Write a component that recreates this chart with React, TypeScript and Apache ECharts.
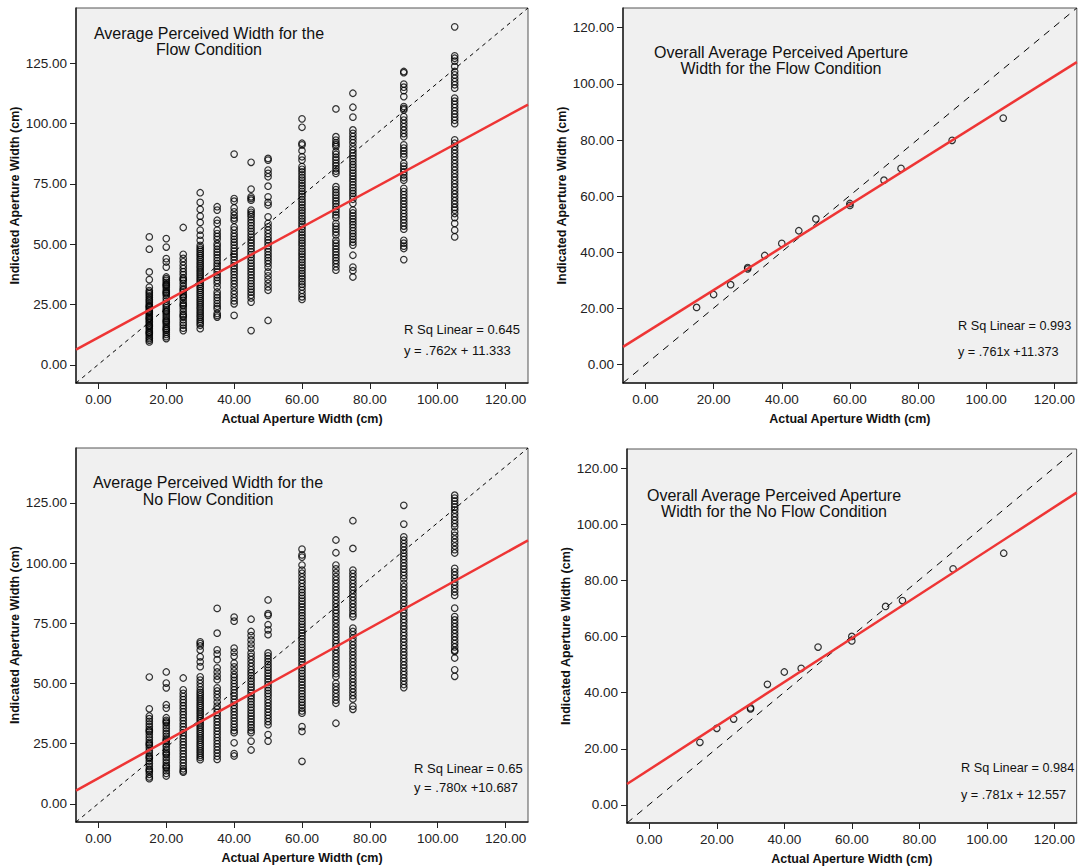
import React, { useEffect, useRef } from "react";
import * as echarts from "echarts";

// ---------- data ----------
const CONDITIONS = [15, 20, 25, 30, 35, 40, 45, 50, 60, 70, 75, 90, 105];
const X_TICKS = [0, 20, 40, 60, 80, 100, 120];
const Y_TICKS_RAW = [0, 25, 50, 75, 100, 125];
const Y_TICKS_AVG = [0, 20, 40, 60, 80, 100, 120];

// Flow condition, raw responses per actual width
const flow15 = [53.0, 47.9, 38.5, 35.3, 32.2, 30.8, 30.1, 29.4, 28.6, 27.9, 27.1, 26.5, 25.7, 25.0, 24.4, 23.6, 22.9, 22.3, 21.5, 20.8, 20.1, 19.5, 18.7, 18.0, 17.4, 16.6, 15.9, 15.2, 14.5, 13.7, 13.0, 12.4, 11.6, 10.9, 10.2, 9.5, 24.1, 21.9, 19.2, 16.2, 13.4];
const flow20 = [52.3, 48.8, 44.0, 42.6, 40.5, 36.4, 35.7, 35.0, 34.2, 33.5, 32.7, 31.9, 31.0, 30.3, 29.5, 28.7, 27.6, 26.4, 25.2, 24.5, 23.6, 22.8, 21.9, 21.1, 20.2, 19.4, 18.6, 17.7, 16.9, 16.0, 15.2, 14.3, 13.5, 12.6, 11.7, 10.9, 33.1, 29.9, 22.2, 18.1, 14.8];
const flow25 = [56.9, 45.8, 44.1, 42.7, 41.2, 39.9, 38.6, 37.4, 36.1, 34.9, 33.8, 32.6, 31.5, 30.2, 29.1, 27.9, 26.8, 25.6, 24.4, 23.3, 22.1, 21.0, 19.8, 18.7, 17.5, 16.4, 15.2, 14.2, 35.5, 31.0, 28.4, 24.9, 20.4];
const flow30 = [71.3, 67.3, 64.4, 61.6, 59.0, 55.8, 53.7, 51.6, 49.5, 48.6, 47.8, 47.0, 46.1, 45.3, 44.4, 43.6, 42.7, 41.9, 41.0, 40.2, 39.3, 38.5, 37.6, 36.8, 35.9, 35.1, 34.2, 33.4, 32.5, 31.7, 30.8, 30.0, 29.1, 28.3, 27.4, 26.6, 25.7, 24.9, 24.0, 23.2, 22.3, 21.5, 20.6, 19.8, 18.9, 18.1, 17.2, 16.4, 15.0];
const flow35 = [65.5, 64.1, 59.9, 58.6, 55.8, 54.4, 53.2, 52.0, 50.2, 49.1, 47.9, 46.7, 45.6, 44.4, 43.2, 42.0, 40.9, 39.7, 38.5, 37.3, 36.2, 35.0, 33.8, 32.2, 30.2, 29.0, 27.9, 26.7, 25.4, 24.3, 23.3, 21.3, 20.5, 19.8];
const flow40 = [87.3, 68.9, 67.8, 65.0, 63.4, 62.0, 60.8, 59.9, 57.1, 55.9, 54.4, 53.2, 52.0, 50.8, 49.6, 48.3, 47.1, 45.9, 44.7, 43.5, 42.2, 41.0, 39.8, 38.6, 37.4, 36.1, 34.9, 33.6, 32.2, 30.6, 29.3, 27.8, 26.5, 25.3, 20.5];
const flow45 = [83.9, 72.8, 69.6, 68.9, 68.2, 64.1, 63.2, 62.3, 61.3, 60.1, 58.9, 57.7, 56.5, 55.3, 54.1, 52.9, 51.7, 50.5, 49.3, 48.1, 46.9, 45.7, 44.5, 43.3, 42.1, 40.9, 39.7, 38.5, 37.3, 36.1, 34.9, 33.7, 32.5, 31.3, 30.1, 28.9, 27.7, 26.0, 14.2];
const flow50 = [85.5, 84.8, 80.7, 79.3, 77.9, 74.0, 69.6, 67.3, 66.2, 61.3, 58.6, 57.2, 55.8, 54.4, 53.0, 51.8, 50.6, 49.3, 48.1, 46.9, 45.6, 44.4, 43.2, 42.0, 40.5, 38.5, 36.9, 35.4, 33.8, 32.3, 30.9, 18.4];
const flow60 = [101.9, 98.4, 91.8, 91.1, 88.7, 86.2, 84.8, 82.1, 81.0, 79.9, 78.7, 77.6, 76.5, 75.3, 74.2, 73.1, 71.9, 70.8, 69.7, 68.5, 67.4, 66.3, 65.1, 64.0, 62.9, 61.7, 60.6, 59.5, 58.3, 57.2, 56.1, 54.9, 53.8, 52.7, 51.5, 50.4, 49.3, 48.1, 47.0, 45.9, 44.7, 43.6, 42.5, 41.3, 40.2, 39.1, 37.9, 36.8, 35.7, 34.5, 33.4, 32.3, 30.9, 29.5, 28.2, 27.1];
const flow70 = [106.0, 94.5, 93.1, 92.0, 91.2, 90.4, 88.3, 87.2, 86.0, 84.9, 83.6, 82.5, 81.3, 80.2, 79.3, 73.8, 72.6, 71.4, 70.3, 69.1, 67.9, 66.8, 65.6, 64.4, 63.3, 62.1, 61.0, 58.6, 57.4, 56.2, 55.0, 53.8, 51.6, 50.4, 49.2, 48.0, 46.8, 45.6, 44.4, 43.2, 42.0, 40.6, 39.2];
const flow75 = [112.5, 106.7, 102.6, 97.3, 95.9, 94.6, 93.3, 92.0, 90.4, 89.0, 87.8, 86.6, 85.4, 84.2, 83.0, 81.8, 80.6, 79.4, 78.2, 77.0, 75.8, 74.6, 73.4, 72.2, 71.0, 69.8, 68.6, 66.9, 64.1, 62.9, 61.7, 60.5, 59.3, 58.1, 56.9, 55.6, 54.4, 53.2, 52.0, 50.8, 49.6, 45.4, 40.5, 39.0, 36.4];
const flow90 = [121.5, 121.0, 116.3, 115.0, 113.6, 111.1, 107.0, 106.2, 105.6, 102.8, 101.4, 100.0, 98.6, 97.2, 95.8, 94.5, 91.1, 89.8, 88.6, 87.4, 86.2, 83.5, 82.3, 81.1, 79.9, 78.7, 77.5, 76.5, 73.1, 71.8, 70.5, 69.2, 67.9, 66.6, 65.3, 64.0, 62.7, 61.4, 60.1, 58.8, 57.5, 56.2, 51.6, 50.4, 49.2, 48.2, 43.6];
const flow105 = [140.0, 128.0, 127.0, 125.8, 123.6, 121.5, 120.1, 118.7, 117.3, 116.0, 114.6, 110.5, 109.2, 107.9, 106.6, 105.2, 103.9, 102.6, 101.3, 99.9, 93.2, 91.8, 90.4, 89.0, 87.6, 86.2, 84.8, 83.4, 82.0, 80.6, 79.2, 77.8, 76.4, 75.0, 73.6, 72.2, 70.8, 69.4, 68.0, 66.6, 65.2, 64.1, 62.7, 61.0, 58.6, 55.8, 53.0];

// No flow condition, raw responses per actual width
const noFlow15 = [52.7, 39.5, 36.5, 35.4, 34.3, 33.2, 32.1, 31.0, 29.9, 28.8, 27.7, 26.6, 25.5, 24.4, 23.3, 22.2, 21.1, 20.0, 18.9, 17.8, 16.7, 15.6, 14.5, 13.4, 12.3, 11.2, 10.5, 30.4, 24.9, 19.4, 14.0];
const noFlow20 = [54.8, 50.2, 48.2, 41.2, 39.8, 35.8, 34.7, 33.6, 32.5, 31.4, 30.3, 29.2, 28.1, 27.0, 25.9, 24.8, 23.7, 22.6, 21.5, 20.4, 19.3, 18.2, 17.1, 16.0, 14.9, 13.8, 12.7, 11.6, 34.1, 26.4, 20.9, 15.4];
const noFlow25 = [52.3, 47.4, 45.9, 44.6, 43.3, 42.1, 40.8, 39.6, 38.3, 37.1, 35.8, 34.6, 33.3, 32.1, 30.8, 29.6, 28.3, 27.1, 25.8, 24.6, 23.3, 22.1, 20.8, 19.6, 18.3, 17.1, 15.8, 14.6, 13.7, 13.2];
const noFlow30 = [67.3, 66.6, 65.6, 63.9, 61.1, 59.0, 57.0, 52.8, 51.4, 50.0, 48.6, 47.3, 46.3, 45.4, 44.5, 43.6, 42.7, 41.8, 40.9, 40.0, 39.1, 38.2, 37.3, 36.4, 35.5, 34.6, 33.7, 32.8, 31.9, 31.0, 30.1, 29.2, 28.3, 27.4, 26.5, 25.6, 24.7, 23.8, 22.9, 22.0, 21.1, 20.2, 19.3, 18.4];
const noFlow35 = [81.2, 70.9, 64.0, 62.3, 59.9, 56.5, 54.8, 53.1, 51.6, 48.2, 46.9, 45.5, 44.1, 42.3, 40.6, 39.3, 38.0, 36.7, 35.4, 34.1, 32.8, 31.5, 30.2, 28.9, 27.6, 26.3, 25.0, 23.7, 22.4, 21.1, 19.8, 18.5];
const noFlow40 = [77.6, 75.9, 64.7, 63.0, 61.3, 58.5, 56.9, 55.3, 53.7, 52.6, 51.3, 50.0, 48.7, 47.4, 46.1, 44.8, 43.5, 42.2, 40.9, 39.6, 38.3, 37.0, 35.7, 34.4, 33.1, 31.8, 30.5, 29.6, 25.4, 20.9, 19.9];
const noFlow45 = [76.7, 71.6, 69.9, 68.1, 66.4, 64.7, 62.7, 61.3, 59.9, 58.5, 57.1, 55.7, 54.5, 53.3, 52.1, 50.9, 49.7, 48.5, 47.3, 46.1, 44.9, 43.7, 42.5, 41.3, 40.1, 38.9, 37.7, 36.5, 35.3, 34.1, 32.9, 31.7, 30.5, 29.6, 26.1, 22.4];
const noFlow50 = [84.7, 79.0, 78.3, 74.4, 72.3, 70.3, 62.7, 61.5, 60.3, 59.1, 57.9, 56.7, 55.5, 54.3, 53.1, 51.9, 50.7, 49.5, 48.3, 47.1, 45.9, 44.7, 43.3, 42.0, 40.7, 39.4, 38.1, 36.8, 35.5, 34.2, 32.9, 28.8, 26.1];
const noFlow60 = [105.8, 103.4, 102.5, 99.2, 97.1, 95.8, 94.3, 92.9, 91.6, 90.2, 89.0, 87.8, 86.6, 85.4, 84.2, 83.0, 81.8, 80.6, 79.4, 78.2, 77.0, 75.8, 74.6, 73.4, 72.2, 71.0, 69.8, 68.6, 67.4, 66.2, 65.0, 63.8, 62.6, 61.4, 60.2, 59.0, 57.8, 56.6, 55.4, 54.2, 53.0, 51.8, 50.6, 49.4, 48.2, 47.0, 45.8, 44.6, 43.4, 42.2, 41.0, 39.8, 38.6, 37.7, 32.1, 30.1, 17.7];
const noFlow70 = [109.6, 104.3, 99.2, 97.6, 96.0, 94.4, 93.0, 91.6, 90.2, 88.8, 87.5, 86.1, 84.6, 83.2, 81.8, 80.4, 79.2, 77.8, 76.4, 75.0, 73.5, 72.1, 70.7, 69.3, 67.9, 66.6, 65.3, 63.9, 62.5, 61.1, 59.7, 58.3, 56.9, 55.5, 54.1, 52.8, 50.1, 48.7, 47.3, 45.9, 44.5, 43.1, 41.8, 33.5];
const noFlow75 = [117.6, 106.1, 97.1, 95.7, 94.3, 92.9, 91.5, 90.1, 88.7, 87.3, 85.9, 84.5, 83.1, 81.7, 80.3, 78.9, 77.8, 73.0, 71.6, 70.2, 68.8, 67.4, 66.0, 64.6, 63.2, 61.8, 60.4, 59.0, 57.6, 56.2, 54.8, 53.4, 52.0, 50.6, 49.2, 47.8, 46.4, 45.0, 43.6, 40.6, 39.3];
const noFlow90 = [124.0, 116.2, 110.9, 109.5, 108.1, 106.8, 105.4, 104.1, 102.8, 101.5, 100.1, 98.8, 97.5, 96.2, 94.9, 93.5, 91.6, 90.2, 88.8, 87.4, 86.1, 84.7, 83.4, 82.0, 80.7, 79.3, 78.0, 76.6, 75.3, 73.9, 72.6, 71.2, 69.9, 68.5, 67.2, 65.8, 64.5, 63.1, 61.8, 60.4, 59.1, 57.7, 56.4, 55.0, 53.7, 52.3, 51.0, 49.6, 48.3];
const noFlow105 = [128.2, 127.0, 125.8, 124.5, 123.3, 122.1, 120.6, 119.2, 117.8, 116.4, 115.1, 113.0, 111.5, 110.0, 108.6, 107.1, 105.6, 104.2, 97.8, 96.4, 95.0, 93.6, 92.2, 90.8, 89.4, 88.0, 86.6, 81.3, 77.8, 76.4, 75.0, 73.6, 72.2, 70.8, 69.4, 68.0, 66.6, 65.2, 63.8, 63.3, 60.6, 55.7, 53.0];

// Overall averages
const avgX = [15, 20, 25, 30, 30, 35, 40, 45, 50, 60, 60, 70, 75, 90, 105];
const avgFlowY = [20.4, 25.0, 28.5, 34.6, 34.1, 38.9, 43.2, 47.7, 51.9, 57.4, 56.7, 65.7, 69.9, 79.9, 87.8];
const avgNoFlowY = [22.3, 27.3, 30.6, 34.6, 34.2, 43.0, 47.4, 48.7, 56.3, 60.1, 58.5, 70.8, 72.9, 84.2, 89.8];

// Fit equations (as printed)
const fits = [
  { slope: 0.762, intercept: 11.333, r2: "R Sq Linear = 0.645", eq: "y = .762x + 11.333" },
  { slope: 0.761, intercept: 11.373, r2: "R Sq Linear = 0.993", eq: "y = .761x +11.373" },
  { slope: 0.78, intercept: 10.687, r2: "R Sq Linear = 0.65", eq: "y = .780x +10.687" },
  { slope: 0.781, intercept: 12.557, r2: "R Sq Linear = 0.984", eq: "y = .781x + 12.557" },
];

const titles = [
  ["Average Perceived Width for the", "Flow Condition"],
  ["Overall Average Perceived Aperture", "Width for the Flow Condition"],
  ["Average Perceived Width for the", "No Flow Condition"],
  ["Overall Average Perceived Aperture", "Width for the No Flow Condition"],
];

const flowCols = [flow15, flow20, flow25, flow30, flow35, flow40, flow45, flow50, flow60, flow70, flow75, flow90, flow105];
const noFlowCols = [noFlow15, noFlow20, noFlow25, noFlow30, noFlow35, noFlow40, noFlow45, noFlow50, noFlow60, noFlow70, noFlow75, noFlow90, noFlow105];

// ---------- layout ----------
const FONT = "'Liberation Sans', Arial, Helvetica, sans-serif";
const X_RANGE = [-6.6, 126.6];
const Y_RANGE_RAW = [-7.5, 147.8];
const Y_RANGE_AVG = [-6.5, 127];

const grids = [
  { left: 76, top: 8, width: 452, height: 375 },
  { left: 623, top: 8, width: 454, height: 375 },
  { left: 76, top: 448, width: 452, height: 374 },
  { left: 627, top: 449, width: 452, height: 374 },
];

const titlePos = [
  { x: 209, y1: 33, y2: 49 },
  { x: 781, y1: 52, y2: 68 },
  { x: 208, y1: 482, y2: 499 },
  { x: 774, y1: 495, y2: 511 },
];
const notePos = [
  { x: 404, y1: 329, y2: 350, size: 13 },
  { x: 958, y1: 326, y2: 352, size: 12.7 },
  { x: 414, y1: 768, y2: 787, size: 13 },
  { x: 961, y1: 768, y2: 795, size: 12.7 },
];

export default function App() {
  const ref = useRef<HTMLDivElement>(null);

  useEffect(() => {
    if (!ref.current) return;
    const chart = echarts.init(ref.current, undefined, { renderer: "svg" });

    const rawFlow: number[][] = [];
    CONDITIONS.forEach((x, i) => flowCols[i].forEach((y) => rawFlow.push([x, y])));
    const rawNoFlow: number[][] = [];
    CONDITIONS.forEach((x, i) => noFlowCols[i].forEach((y) => rawNoFlow.push([x, y])));
    const avgFlow = avgX.map((x, i) => [x, avgFlowY[i]]);
    const avgNoFlow = avgX.map((x, i) => [x, avgNoFlowY[i]]);

    const scatterData = [rawFlow, avgFlow, rawNoFlow, avgNoFlow];
    const yRanges = [Y_RANGE_RAW, Y_RANGE_AVG, Y_RANGE_RAW, Y_RANGE_AVG];
    const yTicks = [Y_TICKS_RAW, Y_TICKS_AVG, Y_TICKS_RAW, Y_TICKS_AVG];
    const isRaw = [true, false, true, false];

    const fmt = (v: number) => Number(v).toFixed(2);

    const xAxis = grids.map((_, i) => ({
      type: "value",
      gridIndex: i,
      min: X_RANGE[0],
      max: X_RANGE[1],
      name: "Actual Aperture Width (cm)",
      nameLocation: "middle",
      nameGap: 29,
      nameTextStyle: { fontFamily: FONT, fontSize: 12.5, fontWeight: "bold", color: "#111" },
      axisLine: { show: true, onZero: false, lineStyle: { color: "#222", width: 1.5 } },
      axisTick: { show: true, length: 6, customValues: X_TICKS, lineStyle: { color: "#222", width: 1 } },
      axisLabel: { customValues: X_TICKS, formatter: fmt, margin: 9, fontFamily: FONT, fontSize: 13.5, color: "#222" },
      splitLine: { show: false },
    }));

    const yAxis = grids.map((_, i) => ({
      type: "value",
      gridIndex: i,
      min: yRanges[i][0],
      max: yRanges[i][1],
      name: "Indicated Aperture Width (cm)",
      nameLocation: "middle",
      nameGap: 54,
      nameTextStyle: { fontFamily: FONT, fontSize: 12.5, fontWeight: "bold", color: "#111" },
      axisLine: { show: true, onZero: false, lineStyle: { color: "#222", width: 1.5 } },
      axisTick: { show: true, length: 6, customValues: yTicks[i], lineStyle: { color: "#222", width: 1 } },
      axisLabel: { customValues: yTicks[i], formatter: fmt, margin: 9, fontFamily: FONT, fontSize: 13.5, color: "#222" },
      splitLine: { show: false },
    }));

    const series: any[] = [];
    grids.forEach((_, i) => {
      series.push({
        type: "scatter",
        xAxisIndex: i,
        yAxisIndex: i,
        data: scatterData[i],
        symbol: "circle",
        symbolSize: 6.5,
        itemStyle: { color: "rgba(0,0,0,0)", borderColor: "#000", borderWidth: 1.2 },
        silent: true,
        z: 2,
      });
      series.push({
        type: "line",
        xAxisIndex: i,
        yAxisIndex: i,
        data: [
          [X_RANGE[0], yRanges[i][0]],
          [X_RANGE[1], yRanges[i][1]],
        ],
        showSymbol: false,
        symbol: "none",
        lineStyle: { color: "#000", width: 1, type: isRaw[i] ? [4, 4] : [7, 6] },
        silent: true,
        z: 3,
      });
      const f = fits[i];
      series.push({
        type: "line",
        xAxisIndex: i,
        yAxisIndex: i,
        data: [
          [X_RANGE[0], f.slope * X_RANGE[0] + f.intercept],
          [X_RANGE[1], f.slope * X_RANGE[1] + f.intercept],
        ],
        showSymbol: false,
        symbol: "none",
        lineStyle: { color: "#EE3535", width: 2.5 },
        silent: true,
        z: 4,
      });
    });

    const graphic: any[] = [];
    grids.forEach((_, i) => {
      const tp = titlePos[i];
      [tp.y1, tp.y2].forEach((y, k) => {
        graphic.push({
          type: "text",
          x: tp.x,
          y,
          z: 10,
          style: {
            text: titles[i][k],
            fontFamily: FONT,
            fontSize: 16,
            fill: "#111",
            align: "center",
            verticalAlign: "middle",
          },
        });
      });
      const np = notePos[i];
      [
        [fits[i].r2, np.y1],
        [fits[i].eq, np.y2],
      ].forEach(([t, y]) => {
        graphic.push({
          type: "text",
          x: np.x,
          y,
          z: 10,
          style: {
            text: t,
            fontFamily: FONT,
            fontSize: np.size,
            fill: "#111",
            align: "left",
            verticalAlign: "middle",
          },
        });
      });
    });

    chart.setOption({
      animation: false,
      backgroundColor: "#ffffff",
      grid: grids.map((g) => ({
        ...g,
        show: true,
        backgroundColor: "#F0F0F0",
        borderColor: "#555",
        borderWidth: 1,
        containLabel: false,
      })),
      xAxis,
      yAxis,
      series,
      graphic,
    });

    return () => chart.dispose();
  }, []);

  return (
    <div
      ref={ref}
      style={{ position: "absolute", left: 0, top: 0, width: 1078, height: 867, background: "#fff" }}
    />
  );
}
